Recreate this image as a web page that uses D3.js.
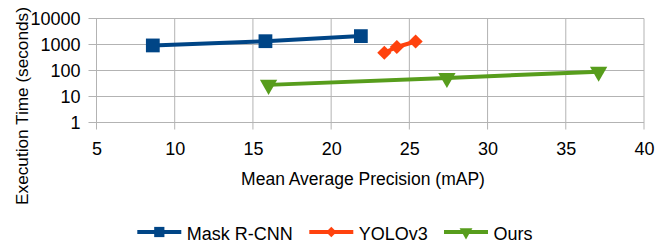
<!DOCTYPE html>
<html><head><meta charset="utf-8">
<script src="https://cdn.jsdelivr.net/npm/d3@7"></script>
<style>body{margin:0;background:#fff}svg{display:block}text{font-family:"Liberation Sans",Arial,sans-serif;fill:#000}</style>
</head><body><svg id="c" width="669" height="247"></svg>
<script>
const seriesNames = ["Mask R-CNN", "YOLOv3", "Ours"];
const maskX = [8.6, 15.8, 21.9];
const maskY = [920, 1340, 2100];
const yoloX = [23.4, 24.2, 25.4];
const yoloY = [480, 800, 1300];
const oursX = [16.0, 27.4, 37.1];
const oursY = [28, 52, 90];
const xTicks = [5, 10, 15, 20, 25, 30, 35, 40];
const yTicks = [1, 10, 100, 1000, 10000];
const xTitle = "Mean Average Precision (mAP)";
const yTitle = "Execution Time (seconds)";

const colors = ["#004586", "#ff420e", "#579d1c"];
const symbols = [d3.symbolSquare, d3.symbolSquare, d3.symbolTriangle];
const rotations = [0, 45, 180];
const series = [
  {name: seriesNames[0], xs: maskX, ys: maskY},
  {name: seriesNames[1], xs: yoloX, ys: yoloY},
  {name: seriesNames[2], xs: oursX, ys: oursY}
];

const svg = d3.select("#c");
const L = 96.5, R = 644, T = 18.5, B = 122.5;
const x = d3.scaleLinear().domain([5, 40]).range([L, R]);
const y = d3.scaleLog().domain([1, 10000]).range([B, T]);

const g = svg.append("g");
g.selectAll(".hg").data(yTicks).join("line")
  .attr("x1", L - 8).attr("x2", R).attr("y1", d => y(d)).attr("y2", d => y(d))
  .attr("stroke", "#b3b3b3").attr("stroke-width", 1);
g.selectAll(".vg").data(xTicks).join("line")
  .attr("x1", d => x(d)).attr("x2", d => x(d)).attr("y1", T).attr("y2", B + 7)
  .attr("stroke", "#b3b3b3").attr("stroke-width", 1);

const xa = svg.append("g").attr("transform", `translate(0,${B})`)
  .call(d3.axisBottom(x).tickValues(xTicks).tickSize(0).tickPadding(18).tickFormat(d3.format("d")));
const ya = svg.append("g").attr("transform", `translate(${L},0)`)
  .call(d3.axisLeft(y).tickValues(yTicks).tickSize(0).tickPadding(16).tickFormat(d3.format("d")));
[xa, ya].forEach(a => {
  a.select(".domain").remove();
  a.selectAll("text").attr("font-family", "Liberation Sans, Arial, sans-serif").attr("font-size", 18).attr("fill", "#000");
});
xa.selectAll("text").attr("dy", null).attr("y", 32);
ya.selectAll("text").attr("dy", "0.36em");

svg.append("text").attr("x", 363).attr("y", 185).attr("text-anchor", "middle")
  .attr("font-size", 17.5).text(xTitle);
svg.append("text").attr("transform", "translate(28,106) rotate(-90)").attr("text-anchor", "middle")
  .attr("font-size", 17.2).text(yTitle);

const line = d3.line().x(d => x(d[0])).y(d => y(d[1]));
const sizes = [190, 100, 130];
series.forEach((s, i) => {
  const pts = s.xs.map((v, j) => [v, s.ys[j]]);
  svg.append("path").attr("d", line(pts)).attr("fill", "none")
    .attr("stroke", colors[i]).attr("stroke-width", 4).attr("stroke-linejoin", "round");
  svg.selectAll(null).data(pts).join("path")
    .attr("transform", d => `translate(${x(d[0])},${y(d[1])}) rotate(${rotations[i]})`)
    .attr("d", d3.symbol().type(symbols[i]).size(sizes[i])).attr("fill", colors[i]);
});

const legX = [137.3, 309.3, 444];
const legY = 232;
series.forEach((s, i) => {
  const lg = svg.append("g").attr("transform", `translate(${legX[i]},${legY})`);
  lg.append("line").attr("x1", 0).attr("x2", 44).attr("y1", 0).attr("y2", 0)
    .attr("stroke", colors[i]).attr("stroke-width", 4);
  lg.append("path").attr("transform", `translate(22,0) rotate(${rotations[i]})`)
    .attr("d", d3.symbol().type(symbols[i]).size(sizes[i] * 0.55)).attr("fill", colors[i]);
  lg.append("text").attr("x", 49.5).attr("y", 8).attr("font-size", 18).text(s.name);
});
</script></body></html>
